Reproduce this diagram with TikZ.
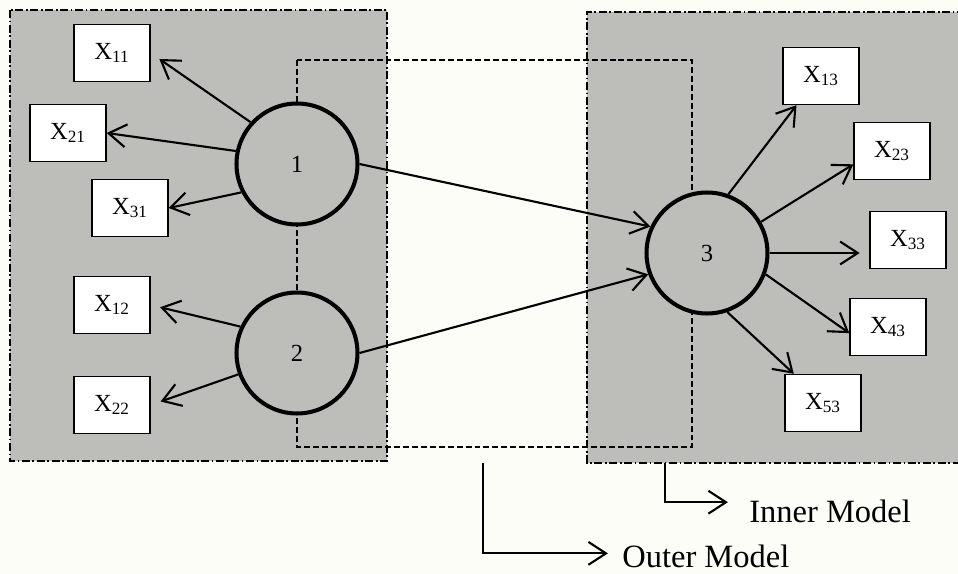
\documentclass[tikz,border=0pt]{standalone}
\usepackage{fontspec}
\setmainfont{Liberation Serif}
\usetikzlibrary{arrows.meta}
\definecolor{paper}{RGB}{253,253,247}
\definecolor{boxgray}{RGB}{189,189,185}

\tikzset{
    ind/.style={draw, fill=white, line width=0.8pt, minimum width=1.52cm, minimum height=1.14cm, inner sep=0pt, font=\fontsize{14}{16}\selectfont},
    lat/.style={circle, draw, fill=boxgray, line width=2.3pt, minimum size=2.42cm, inner sep=0pt, font=\fontsize{14}{16}\selectfont},
    arr/.style={->, line width=1.2pt},
    dashdot/.style={line width=0.8pt, dash pattern=on 4.5pt off 1.5pt on 1pt off 1.5pt},
    dashbox/.style={line width=0.8pt, dash pattern=on 3.4pt off 1.7pt},
    lab/.style={inner sep=0pt, font=\fontsize{18.5}{21}\selectfont}
}

\begin{document}
\begin{tikzpicture}[x=0.02cm, y=-0.02cm, >={Straight Barb[length=10pt,width=13pt]}]
    \path[use as bounding box, fill=paper] (0,0) rectangle (958,574);

    \fill[boxgray] (10,10) rectangle (387,461);
    \fill[boxgray] (587,12) rectangle (965,463);
    \draw[dashdot] (10,10) rectangle (387,461);
    \draw[dashdot] (965,12) -- (587,12) -- (587,463) -- (965,463);
    \draw[dashbox] (297,60) rectangle (692,447);

    \node[lat] (c1) at (297,164) {1};
    \node[lat] (c2) at (297,353) {2};
    \node[lat] (c3) at (707,253) {3};

    \foreach \n/\x/\y in {11/112/53, 21/68/133, 31/130/208, 12/112/305, 22/112/405,
                          13/821/76, 23/892/151, 33/908/240, 43/888/327, 53/823/403}{
            \node[ind] (x\n) at (\x,\y) {X\textsubscript{\n}};
    }

    \draw[arr, shorten >=6pt] (c1.138) -- (x11.east);
    \draw[arr] (c1.168) -- (x21.east);
    \draw[arr] (c1.207) -- (x31.east);
    \draw[arr, shorten >=5.5pt] (c2.155) -- (x12.east);
    \draw[arr, shorten >=6pt] (c2.200) -- (x22.east);

    \draw[arr] (c1.east) -- (c3.155);
    \draw[arr] (c2.east) -- (c3.200);

    \draw[arr] (c3.70) -- (x13.230);
    \draw[arr] (c3.30) -- (x23.199);
    \draw[arr, shorten >=5.5pt] (c3.east) -- (c3.east -| x33.west);
    \draw[arr] (c3.340) -- (x43.189);
    \draw[arr] (c3.289) -- (x53.135);

    \node[lab, anchor=base west] (inner) at (749,523) {Inner Model};
    \node[lab, anchor=base west] (outer) at (622,568) {Outer Model};
    \coordinate (inS) at (665,463);
    \coordinate (outS) at (483,463);
    \draw[arr] (inS) |- ([xshift=-12pt,yshift=5.5pt]inner.west);
    \draw[arr] (outS) |- ([xshift=-8pt,yshift=2pt]outer.west);

\end{tikzpicture}
\end{document}
